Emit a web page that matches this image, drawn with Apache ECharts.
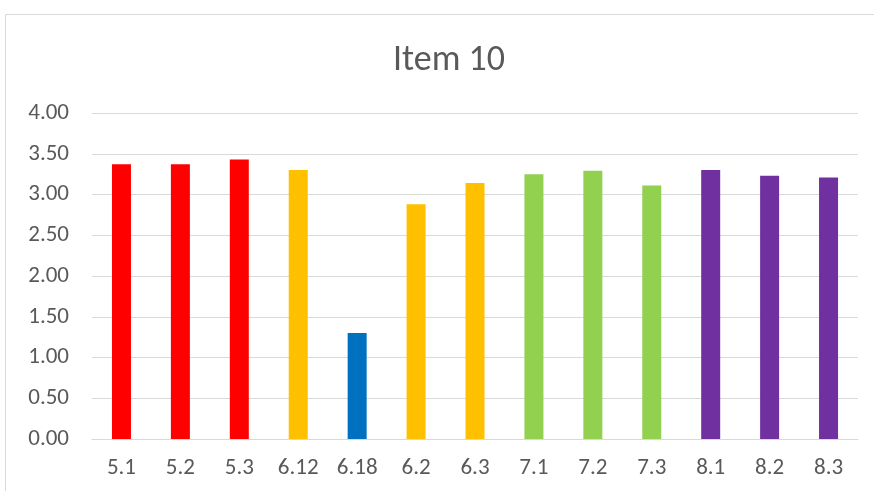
<!DOCTYPE html>
<html>
<head>
<meta charset="utf-8">
<script src="https://cdn.jsdelivr.net/npm/echarts@6/dist/echarts.min.js"></script>
<style>
  html, body { margin: 0; padding: 0; background: #fff; }
  #chart { width: 874px; height: 491px; }
</style>
</head>
<body>
<div id="chart"></div>
<script>
// Item 10 scores by section
const categories = ['5.1', '5.2', '5.3', '6.12', '6.18', '6.2', '6.3', '7.1', '7.2', '7.3', '8.1', '8.2', '8.3'];
const scores = [3.37, 3.37, 3.43, 3.30, 1.30, 2.88, 3.14, 3.25, 3.29, 3.11, 3.30, 3.23, 3.21];
const barColors = ['#FF0000', '#FF0000', '#FF0000', '#FFC000', '#0070C0', '#FFC000', '#FFC000',
                   '#92D050', '#92D050', '#92D050', '#7030A0', '#7030A0', '#7030A0'];
const yTicks = { min: 0, max: 4, interval: 0.5 };

const font = "Carlito, 'Liberation Sans Narrow', 'Open Sans', sans-serif";
const textColor = '#595959';
const lineColor = '#d9d9d9';

const chart = echarts.init(document.getElementById('chart'), null, { renderer: 'canvas' });
chart.setOption({
  animation: false,
  backgroundColor: '#ffffff',
  graphic: [{
    type: 'rect',
    shape: { x: 5.5, y: 14.5, width: 900, height: 500 },
    style: { fill: 'none', stroke: lineColor, lineWidth: 1 },
    silent: true
  }],
  title: {
    text: 'Item 10',
    left: 388,
    top: 38,
    textStyle: { fontFamily: font, fontSize: 36, fontWeight: 'normal', color: textColor }
  },
  grid: { left: 92, right: 16, top: 113, bottom: 52, containLabel: false },
  xAxis: {
    type: 'category',
    data: categories,
    axisLine: { lineStyle: { color: lineColor, width: 1 } },
    axisTick: { show: false },
    axisLabel: { fontFamily: font, fontSize: 23, color: textColor, margin: 18 }
  },
  yAxis: {
    type: 'value',
    min: yTicks.min,
    max: yTicks.max,
    interval: yTicks.interval,
    axisLine: { show: false },
    axisTick: { show: false },
    splitLine: { lineStyle: { color: lineColor, width: 1 } },
    axisLabel: {
      fontFamily: font, fontSize: 23, color: textColor, margin: 23,
      formatter: v => v.toFixed(2)
    }
  },
  series: [{
    type: 'bar',
    data: scores.map((v, i) => ({ value: v, itemStyle: { color: barColors[i] } })),
    barWidth: 19
  }]
});
</script>
</body>
</html>
